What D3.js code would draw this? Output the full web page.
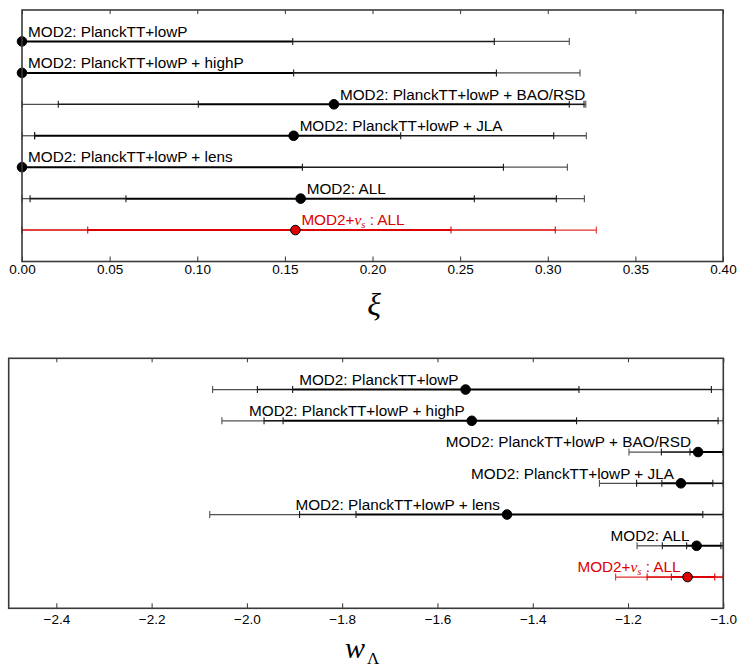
<!DOCTYPE html>
<html>
<head>
<meta charset="utf-8">
<script src="https://cdn.jsdelivr.net/npm/d3@7"></script>
<style>
  html, body { margin: 0; padding: 0; background: #fff; }
  svg { display: block; }
</style>
</head>
<body>
<svg id="chart" width="738" height="670"></svg>
<script>
// ---------- DATA ----------
const rowLabels = [
  "MOD2: PlanckTT+lowP",
  "MOD2: PlanckTT+lowP + highP",
  "MOD2: PlanckTT+lowP + BAO/RSD",
  "MOD2: PlanckTT+lowP + JLA",
  "MOD2: PlanckTT+lowP + lens",
  "MOD2: ALL",
  "MOD2+νs: ALL"
];
const rowColors = ["black", "black", "black", "black", "black", "black", "red"];

// xi panel: best fit, lower limits (1,2,3 sigma), upper limits (1,2,3 sigma)
const xiCenter = [0, 0, 0.178, 0.155, 0, 0.159, 0.156];
const xiLo1 = [0, 0, 0.1006, 0.0072, 0, 0.0593, 0.0375];
const xiLo2 = [0, 0, 0.0207, 0.0072, 0, 0.0046, 0];
const xiLo3 = [0, 0, 0, 0, 0, 0, 0];
const xiHi1 = [0.1545, 0.155, 0.3123, 0.2161, 0.160, 0.2581, 0.2448];
const xiHi2 = [0.2695, 0.2707, 0.3207, 0.3034, 0.2747, 0.3049, 0.3043];
const xiHi3 = [0.3123, 0.3184, 0.3217, 0.322, 0.3112, 0.3209, 0.3277];
const xiTicks = [0, 0.05, 0.10, 0.15, 0.20, 0.25, 0.30, 0.35, 0.40];

// w_Lambda panel
const wCenter = [-1.541, -1.528, -1.053, -1.089, -1.454, -1.056, -1.075];
const wLo1 = [-1.904, -1.924, -1.070, -1.129, -1.771, -1.077, -1.109];
const wLo2 = [-1.978, -1.964, -1.130, -1.182, -1.8895, -1.128, -1.160];
const wLo3 = [-2.072, -2.0525, -1.198, -1.260, -2.078, -1.181, -1.226];
const wHi1 = [-1.303, -1.308, -1.0, -1.022, -1.043, -1.005, -1.018];
const wHi2 = [-1.025, -1.011, -1.0, -1.0, -1.0, -1.0, -1.0];
const wHi3 = [-1.0, -1.0, -1.0, -1.0, -1.0, -1.0, -1.0];
const wTicks = [-2.4, -2.2, -2.0, -1.8, -1.6, -1.4, -1.2, -1.0];

// ---------- DRAW ----------
const svg = d3.select("#chart");
const SANS = "'Liberation Sans', Arial, Helvetica, sans-serif";
const SERIF = "'Liberation Serif', 'Times New Roman', serif";
const RED = "#dd0000";

function colorOf(i, shade) {
  if (rowColors[i] === "red") return shade === "outer" ? "#e03030" : RED;
  return shade === "outer" ? "#505050" : (shade === "mid" ? "#1a1a1a" : "#000");
}

function panel(cfg) {
  const x = d3.scaleLinear().domain(cfg.domain).range([cfg.left, cfg.right]);
  const y = d3.scaleLinear().domain([0, 8]).range([cfg.top, cfg.bottom]);
  const g = svg.append("g");

  const axB = g.append("g").attr("transform", `translate(0,${cfg.bottom})`)
    .call(d3.axisBottom(x).tickValues(cfg.ticks).tickSizeInner(-cfg.tickLen).tickSizeOuter(0)
      .tickPadding(cfg.pad).tickFormat(cfg.fmt));
  axB.select(".domain").remove();
  axB.selectAll(".tick line").attr("stroke", "#333").attr("stroke-width", 1);
  axB.selectAll(".tick text").attr("font-family", SANS).attr("font-size", 13.5).attr("fill", "#000");

  const axT = g.append("g").attr("transform", `translate(0,${cfg.top})`)
    .call(d3.axisTop(x).tickValues(cfg.ticks).tickSizeInner(-4).tickSizeOuter(0).tickFormat(""));
  axT.select(".domain").remove();
  axT.selectAll(".tick line").attr("stroke", "#333").attr("stroke-width", 1);

  const rows = d3.range(7);
  const rg = g.selectAll("g.row").data(rows).join("g").attr("class", "row");

  const seg = (sel, a, b, shade, w) => sel.append("line")
    .attr("x1", i => x(a[i])).attr("x2", i => x(b[i]))
    .attr("y1", i => y(i + 1)).attr("y2", i => y(i + 1))
    .attr("stroke", i => colorOf(i, shade)).attr("stroke-width", w);

  seg(rg, cfg.lo3, cfg.lo2, "outer", 1.3);
  seg(rg, cfg.hi2, cfg.hi3, "outer", 1.3);
  seg(rg, cfg.lo2, cfg.lo1, "mid", 1.6);
  seg(rg, cfg.hi1, cfg.hi2, "mid", 1.6);
  seg(rg, cfg.lo1, cfg.hi1, "inner", 2.0);

  [cfg.lo1, cfg.lo2, cfg.lo3, cfg.hi1, cfg.hi2, cfg.hi3].forEach((arr, k) => {
    rg.append("line")
      .attr("x1", i => x(arr[i])).attr("x2", i => x(arr[i]))
      .attr("y1", i => y(i + 1) - 3.5).attr("y2", i => y(i + 1) + 3.5)
      .attr("stroke", i => colorOf(i, k === 2 || k === 5 ? "outer" : "mid"))
      .attr("stroke-width", 1.1);
  });

  rg.each(function (i) {
    const t = d3.select(this).append("text")
      .attr("x", cfg.anchor === "start" ? x(cfg.center[i]) + 6 : x(cfg.center[i]) - 7)
      .attr("y", y(i + 1) - 4.7)
      .attr("text-anchor", cfg.anchor)
      .attr("font-family", SANS).attr("font-size", 15.3)
      .attr("fill", rowColors[i] === "red" ? RED : "#000");
    const lab = rowLabels[i];
    if (lab.indexOf("ν") >= 0) {
      t.append("tspan").text("MOD2+");
      t.append("tspan").attr("font-family", SERIF).attr("font-style", "italic").text("ν");
      t.append("tspan").attr("font-family", SERIF).attr("font-style", "italic")
        .attr("font-size", 10.5).attr("dy", 3).text("s");
      t.append("tspan").attr("dy", -3).text(" : ALL");
    } else {
      t.text(lab);
    }
  });

  rg.append("circle")
    .attr("cx", i => x(cfg.center[i])).attr("cy", i => y(i + 1)).attr("r", 4.8)
    .attr("fill", i => rowColors[i] === "red" ? RED : "#000")
    .attr("stroke", "#000").attr("stroke-width", 1);

  g.append("rect").attr("x", cfg.left).attr("y", cfg.top)
    .attr("width", cfg.right - cfg.left).attr("height", cfg.bottom - cfg.top)
    .attr("fill", "none").attr("stroke", "#3a3a3a").attr("stroke-width", 1.6);

  return { x, y, g };
}

panel({
  domain: [0, 0.4], left: 22, right: 723, top: 10, bottom: 261.5,
  ticks: xiTicks, fmt: d3.format(".2f"), tickLen: 5, pad: 3,
  center: xiCenter, lo1: xiLo1, lo2: xiLo2, lo3: xiLo3, hi1: xiHi1, hi2: xiHi2, hi3: xiHi3,
  anchor: "start"
});

panel({
  domain: [-2.5, -1.0], left: 8.7, right: 723.3, top: 358.3, bottom: 608.3,
  ticks: wTicks, fmt: d => d3.format(".1f")(d).replace("-", "\u2212"), tickLen: 5, pad: 6,
  center: wCenter, lo1: wLo1, lo2: wLo2, lo3: wLo3, hi1: wHi1, hi2: wHi2, hi3: wHi3,
  anchor: "end"
});

// axis titles
svg.append("text").attr("x", 374).attr("y", 315).attr("text-anchor", "middle")
  .attr("font-family", SERIF).attr("font-style", "italic").attr("font-size", 32).text("ξ");

const wl = svg.append("text").attr("x", 345).attr("y", 658)
  .attr("font-family", SERIF).attr("font-size", 30);
wl.append("tspan").attr("font-style", "italic").text("w");
wl.append("tspan").attr("font-size", 17).attr("dx", 2).attr("dy", 6).text("Λ");
</script>
</body>
</html>
